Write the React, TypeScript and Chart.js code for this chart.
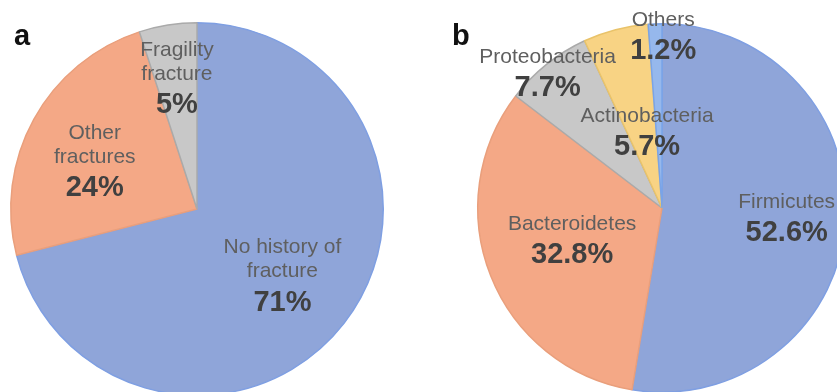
import React, { useEffect, useRef } from "react";
import { Chart, registerables } from "chart.js";

Chart.register(...registerables);

// ---- data ----
const A_NAMES: string[][] = [["No history of", "fracture"], ["Other", "fractures"], ["Fragility", "fracture"]];
const A_VALUES: number[] = [71, 24, 5];

const B_NAMES: string[][] = [["Firmicutes"], ["Bacteroidetes"], ["Proteobacteria"], ["Actinobacteria"], ["Others"]];
const B_VALUES: number[] = [52.6, 32.8, 7.7, 5.7, 1.2];

// ---- styles ----
const A_COLORS = ["#8fa5d9", "#f4a886", "#c8c8c8"];
const A_BORDERS = ["#7f9fe2", "#e99f7c", "#aaaaaa"];
const B_COLORS = ["#8fa5d9", "#f4a886", "#c8c8c8", "#f8d384", "#96b8ec"];
const B_BORDERS = ["#7f9fe2", "#e99f7c", "#aaaaaa", "#e9c36a", "#7aa4e8"];

// label placement: radial fraction of outer radius, angle shift (deg) from slice middle
const A_LABEL_POS = [{ r: 0.68, da: 9.8 }, { r: 0.56, da: -17.4 }, { r: 0.57, da: -1.9 }];
const B_LABEL_POS = [{ r: 0.69, da: 6.6 }, { r: 0.55, da: -5.9 }, { r: 0.9, da: -4.9 }, { r: 0.34, da: 0.8 }, { r: 0.85, da: 2.6 }];

const FONT = "'Liberation Sans', Arial, sans-serif";

const sliceLabels = {
  id: "sliceLabels",
  afterDatasetsDraw(chart: any, _args: any, opts: any) {
    const ctx = chart.ctx;
    const meta = chart.getDatasetMeta(0);
    const values = chart.data.datasets[0].data;
    ctx.save();
    ctx.textAlign = "center";
    ctx.textBaseline = "middle";
    meta.data.forEach((el: any, i: number) => {
      const p = el.getProps(["x", "y", "startAngle", "endAngle", "outerRadius"], true);
      const pos = opts.pos[i];
      const a = (p.startAngle + p.endAngle) / 2 + (pos.da * Math.PI) / 180;
      const px = p.x + Math.cos(a) * pos.r * p.outerRadius;
      const py = p.y + Math.sin(a) * pos.r * p.outerRadius;
      const names: string[] = opts.names[i];
      ctx.fillStyle = "#5f5f5f";
      ctx.font = `21px ${FONT}`;
      names.forEach((n, j) => {
        ctx.fillText(n, px, py - 31 - 24 * (names.length - 1 - j));
      });
      ctx.fillStyle = "#404040";
      ctx.font = `bold 29px ${FONT}`;
      ctx.fillText(`${values[i]}%`, px, py);
    });
    ctx.fillStyle = "#111111";
    ctx.font = `bold 29px ${FONT}`;
    ctx.textAlign = "left";
    ctx.textBaseline = "alphabetic";
    ctx.fillText(opts.letter, opts.letterX, opts.letterY);
    ctx.restore();
  },
};

function makePie(canvas: HTMLCanvasElement, names: string[][], values: number[], colors: string[], borders: string[], pos: any, padding: any, letter: string, letterX: number, letterY: number) {
  return new Chart(canvas, {
    type: "pie",
    data: {
      labels: names.map((n) => n.join(" ")),
      datasets: [
        {
          data: values,
          backgroundColor: colors,
          borderColor: borders,
          borderWidth: 1.5,
        },
      ],
    },
    options: {
      responsive: false,
      animation: false,
      layout: { padding },
      plugins: {
        legend: { display: false },
        tooltip: { enabled: false },
        sliceLabels: { pos, names, letter, letterX, letterY },
      } as any,
    },
    plugins: [sliceLabels],
  });
}

export default function App() {
  const refA = useRef<HTMLCanvasElement>(null);
  const refB = useRef<HTMLCanvasElement>(null);

  useEffect(() => {
    const a = makePie(refA.current!, A_NAMES, A_VALUES, A_COLORS, A_BORDERS, A_LABEL_POS,
      { left: 10, top: 22, right: 36, bottom: 24 }, "a", 14, 45);
    const b = makePie(refB.current!, B_NAMES, B_VALUES, B_COLORS, B_BORDERS, B_LABEL_POS,
      { left: 57, top: 23, right: 13, bottom: 27 }, "b", 32, 45);
    return () => {
      a.destroy();
      b.destroy();
    };
  }, []);

  return (
    <div style={{ position: "fixed", left: 0, top: 0, width: 837, height: 392, overflow: "hidden", background: "#ffffff" }}>
      <canvas ref={refA} width={420} height={420} style={{ position: "absolute", left: 0, top: 0, width: 420, height: 420 }} />
      <canvas ref={refB} width={440} height={420} style={{ position: "absolute", left: 420, top: 0, width: 440, height: 420 }} />
    </div>
  );
}
